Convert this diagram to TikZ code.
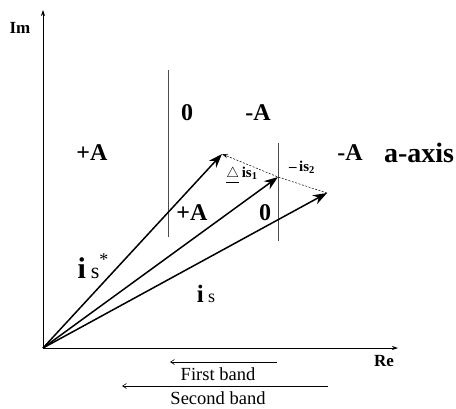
\documentclass[tikz,border=0pt]{standalone}
\usepackage{fontspec}
\setmainfont{Liberation Serif}
\usetikzlibrary{arrows.meta,positioning}

\begin{document}
\begin{tikzpicture}[x=1pt,y=-1pt,
  vec/.style={-{Stealth[length=14pt,width=10pt]},line width=1.5pt},
  axis/.style={-{Stealth[length=6pt,width=4pt]},line width=0.7pt},
  band/.style={-{Straight Barb[length=4pt,width=5pt]},line width=0.6pt},
  diff/.style={-{Stealth[length=6pt,width=4pt]},line width=0.5pt,dash pattern=on 2pt off 1.5pt},
  zone/.style={font=\fontsize{24}{24}\selectfont\bfseries,inner sep=0pt},
  lbl/.style={font=\fontsize{17}{17}\selectfont\bfseries,inner sep=0pt},
  txt/.style={font=\fontsize{18.5}{18.5}\selectfont,inner sep=0pt}]
  \useasboundingbox (0,0) rectangle (456,408);
  % Axes
  \coordinate (O) at (43,348);
  \coordinate (imtop) at (43,10);
  \coordinate (retip) at (398,348);
  \draw[axis] (O) -- (imtop);
  \draw[axis] (O) -- (retip);
  \node[lbl] (im) at (20,28) {Im};
  \node[lbl] (re) at (384,361) {Re};
  % Band borders
  \draw[line width=0.6pt,black!70] (168,70) -- (168,237);
  \draw[line width=0.6pt,black!70] (278,143) -- (278,241);
  % Zone signs
  \node[zone] (pa1) at (92,153) {+A};
  \node[zone] (z1) at (187,113) {0};
  \node[zone] (ma1) at (258,113) {-A};
  \node[zone] (ma2) at (350,153) {-A};
  \node[zone] (pa2) at (192,213) {+A};
  \node[zone] (z2) at (265,213) {0};
  \node[font=\fontsize{28}{28}\selectfont\bfseries,inner sep=0pt] (aax) at (419,153) {a-axis};
  % Current vectors
  \coordinate (isstar) at (222,154);
  \coordinate (ismid) at (278,177);
  \coordinate (is) at (327,193);
  \draw[vec] (O) -- (isstar);
  \draw[vec] (O) -- (ismid);
  \draw[vec] (O) -- (is);
  \draw[diff] (is) -- (ismid) -- (isstar);
  \node[inner sep=0pt] (lstar) at (93,266) {\fontsize{30}{30}\selectfont\textbf{i}\,{\fontsize{22}{22}\selectfont s}\raisebox{0.45em}{\fontsize{18}{18}\selectfont *}};
  \node[inner sep=0pt] (lis) at (206,294) {\fontsize{25}{25}\selectfont\textbf{i}\,{\fontsize{18}{18}\selectfont s}};
  \node[font=\fontsize{15}{15}\selectfont\bfseries,inner sep=0pt] (ld1) at (242,175) {$\underline{\triangle}$\,is\textsubscript{1}};
  \node[font=\fontsize{15}{15}\selectfont\bfseries,inner sep=0pt] (ld2) at (302,167) {--\,is\textsubscript{2}};
  % Bands
  \coordinate (b1r) at (277,362);
  \coordinate (b1l) at (170,362);
  \coordinate (b2r) at (328,386);
  \coordinate (b2l) at (122,386);
  \draw[band] (b1r) -- (b1l);
  \draw[band] (b2r) -- (b2l);
  \node[txt] (fb) at (218,374) {First band};
  \node[txt] (sb) at (218,398) {Second band};
\end{tikzpicture}
\end{document}
